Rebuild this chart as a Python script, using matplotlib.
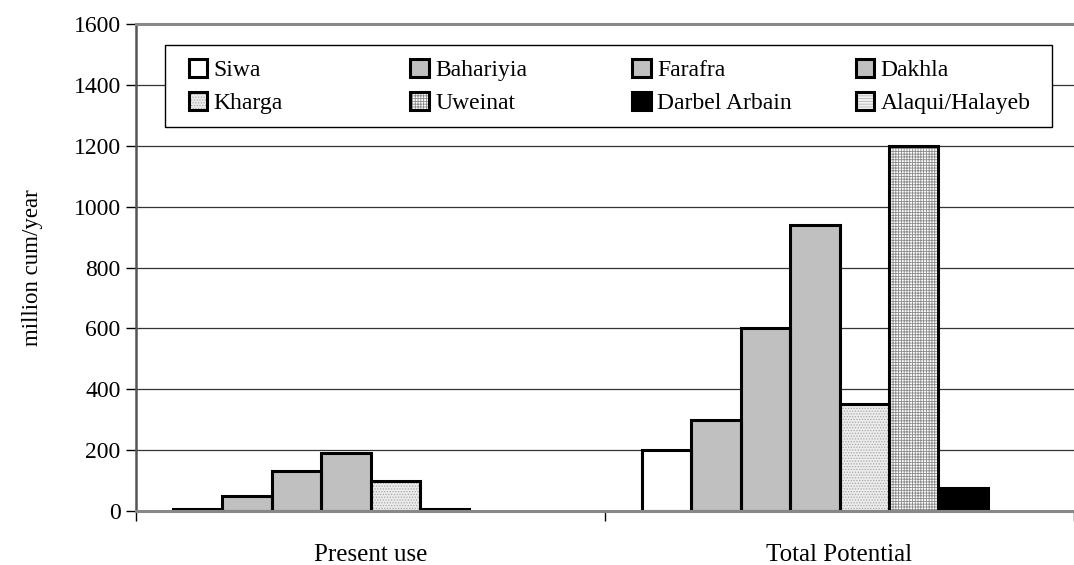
import numpy as np
import matplotlib
matplotlib.use("Agg")
import matplotlib.pyplot as plt
from matplotlib.patches import Patch, Rectangle
from matplotlib.legend import Legend
from matplotlib.legend_handler import HandlerTuple

# data (million cum/year)
categories = ["Present use", "Total Potential"]
oases = ["Siwa", "Bahariyia", "Farafra", "Dakhla",
         "Kharga", "Uweinat", "Darbel Arbain", "Alaqui/Halayeb"]
siwa = [5, 200]
bahariyia = [50, 300]
farafra = [130, 600]
dakhla = [190, 940]
kharga = [100, 350]
uweinat = [5, 1200]
darbel_arbain = [0, 75]
alaqui_halayeb = [0, 0]
series = [siwa, bahariyia, farafra, dakhla, kharga, uweinat, darbel_arbain, alaqui_halayeb]
y_ticks = [0, 200, 400, 600, 800, 1000, 1200, 1400, 1600]

# fill styles: (face, hatch, hatch colour)
styles = [
    ("white", None, None),
    ("#c0c0c0", None, None),
    ("#c0c0c0", None, None),
    ("#c0c0c0", None, None),
    ("#ececec", "......", "#a8a8a8"),
    ("white", "++++++", "#8a8a8a"),
    ("black", None, None),
    ("#f2f2f2", "------", "#b4b4b4"),
]

plt.rcParams["font.family"] = ["Liberation Serif", "DejaVu Serif"]
plt.rcParams["hatch.linewidth"] = 0.6

fig = plt.figure(figsize=(10.74, 5.65), dpi=100)
ax = fig.add_axes([136 / 1074, 1 - 511 / 565, 938 / 1074, 487 / 565])

x = np.arange(len(categories))
w = 0.1055
for i, vals in enumerate(series):
    vals = np.array(vals, dtype=float)
    pos = x + (i - 3.5) * w
    face, hatch, hcol = styles[i]
    ax.bar(pos, vals, w, color=face, hatch=hatch,
           edgecolor=hcol if hatch else face, linewidth=0, zorder=2)
    lws = [2.2 if v > 0 else 0 for v in vals]
    ax.bar(pos, vals, w, fill=False, edgecolor="black", linewidth=lws,
           zorder=3, joinstyle="miter")

ax.set_xlim(-0.5, -0.5 + 938 / 472)
ax.set_ylim(0, 1600)
ax.set_yticks(y_ticks)
ax.tick_params(axis="y", labelsize=17, length=7, width=1, pad=4, direction="out")
ax.yaxis.grid(True, color="#333333", linewidth=0.9)
ax.set_axisbelow(True)

ax.set_xticks(x)
ax.set_xticklabels(categories, fontsize=18)
ax.tick_params(axis="x", length=0, pad=24)
ax.set_xticks([-0.5, 0.5, 1.5], minor=True)
ax.tick_params(axis="x", which="minor", length=7, width=1, direction="out")

ax.spines["right"].set_visible(False)
ax.spines["top"].set_color("#888888")
ax.spines["top"].set_linewidth(2.2)
ax.spines["left"].set_color("#555555")
ax.spines["left"].set_linewidth(1.8)
ax.spines["bottom"].set_color("#888888")
ax.spines["bottom"].set_linewidth(2.2)
ax.spines["bottom"].set_zorder(4)

ax.set_ylabel("million cum/year", fontsize=16.5, labelpad=22)

# legend: white box with four columns of two entries
box = Rectangle((0.0309, 0.7885), 0.9457, 0.1684, transform=ax.transAxes,
                facecolor="white", edgecolor="black", linewidth=1, zorder=5)
ax.add_patch(box)

handles = []
for face, hatch, hcol in styles:
    if hatch:
        fillp = Patch(facecolor=face, hatch=hatch, edgecolor=hcol, linewidth=0)
        edge = Patch(fill=False, edgecolor="black", linewidth=2.2)
        handles.append((fillp, edge))
    else:
        handles.append(Patch(facecolor=face, edgecolor="black", linewidth=2.2))

col_x = [0.0560, 0.2926, 0.5293, 0.7671]
for c in range(4):
    leg = Legend(ax, [handles[c], handles[c + 4]], [oases[c], oases[c + 4]],
                 loc="upper left", bbox_to_anchor=(col_x[c], 0.928),
                 bbox_transform=ax.transAxes, frameon=False,
                 fontsize=17, handlelength=0.8, handleheight=0.8,
                 handletextpad=0.25, labelspacing=0.46, borderpad=0,
                 borderaxespad=0,
                 handler_map={tuple: HandlerTuple(ndivide=1, pad=0)})
    leg.set_zorder(6)
    ax.add_artist(leg)

fig.savefig("out.png", dpi=100)
